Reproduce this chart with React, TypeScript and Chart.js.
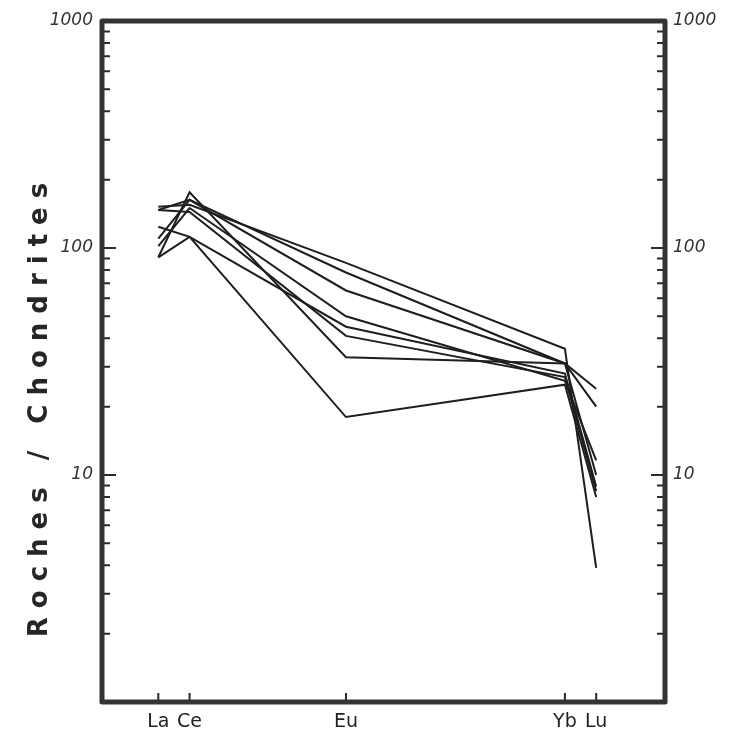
import React, { useEffect, useRef } from "react";
import { Chart, registerables } from "chart.js";

Chart.register(...registerables);

// Rare earth elements (x = atomic number)
const elements = ["La", "Ce", "Eu", "Yb", "Lu"];
const atomicNumbers = [57, 58, 63, 70, 71];

// Rock / chondrite normalised values (La, Ce, Eu, Yb, Lu)
const sample1 = [152, 155, 86, 36, 3.9];
const sample2 = [147, 163, 78, 31, 24];
const sample3 = [110, 163, 65, 31, 20];
const sample4 = [102, 150, 50, 26, 11.6];
const sample5 = [91, 176, 33, 31, 10];
const sample6 = [124, 112, 18, 25, 8.0];
const sample7 = [91, 112, 45, 28, 8.9];
const sample8 = [147, 144, 41, 27, 8.5];
const samples = [sample1, sample2, sample3, sample4, sample5, sample6, sample7, sample8];

const yTickValues = [10, 100, 1000];
const yMin = 1;
const yMax = 1000;
const xMin = 55.2;
const xMax = 73.2;
const yTitle = "Roches / Chondrites";

const framePlugin = {
  id: "frame",
  afterDatasetsDraw(chart: any) {
    const { ctx, chartArea: a, scales } = chart;
    const ys = scales.y;
    const xs = scales.x;
    ctx.save();
    ctx.strokeStyle = "#2b2b2b";
    ctx.lineWidth = 2;
    ctx.beginPath();
    for (let e = 0; e < 3; e++) {
      for (let m = 1; m <= 9; m++) {
        const v = m * Math.pow(10, e);
        if (v <= yMin || v >= yMax) continue;
        const py = ys.getPixelForValue(v);
        const len = m === 1 ? 14 : 8;
        ctx.moveTo(a.left, py);
        ctx.lineTo(a.left + len, py);
        ctx.moveTo(a.right, py);
        ctx.lineTo(a.right - len, py);
      }
    }
    atomicNumbers.forEach((z) => {
      const px = xs.getPixelForValue(z);
      ctx.moveTo(px, a.bottom);
      ctx.lineTo(px, a.bottom - 9);
    });
    ctx.stroke();

    ctx.lineWidth = 5;
    ctx.lineJoin = "round";
    ctx.strokeStyle = "#333";
    ctx.strokeRect(a.left, a.top, a.right - a.left, a.bottom - a.top);

    ctx.translate(40, (a.top + a.bottom) / 2 + 44);
    ctx.rotate(-Math.PI / 2);
    ctx.font = "bold 26px 'DejaVu Sans'";
    (ctx as any).letterSpacing = "9px";
    ctx.fillStyle = "#262626";
    ctx.textAlign = "center";
    ctx.textBaseline = "middle";
    ctx.fillText(yTitle, 0, 0);
    ctx.restore();
  },
};

export default function App() {
  const ref = useRef<HTMLCanvasElement>(null);

  useEffect(() => {
    if (!ref.current) return;
    const yAxisCommon = (width: number, padding: number) => ({
      type: "logarithmic" as const,
      min: yMin,
      max: yMax,
      afterBuildTicks: (s: any) => {
        s.ticks = yTickValues.map((v) => ({ value: v }));
      },
      ticks: {
        callback: (v: any) => String(v),
        font: { family: "DejaVu Sans", size: 17, style: "italic" as const },
        color: "#333",
        padding,
        autoSkip: false,
      },
      grid: { display: false, drawTicks: false },
      border: { display: false },
      afterFit: (s: any) => {
        s.width = width;
      },
    });

    const chart = new Chart(ref.current, {
      type: "line",
      data: {
        datasets: samples.map((s, i) => ({
          label: "Échantillon " + (i + 1),
          data: s.map((v, j) => ({ x: atomicNumbers[j], y: v })),
          borderColor: "#1e1e1e",
          borderWidth: 2,
          pointRadius: 0,
          tension: 0,
          fill: false,
        })),
      },
      options: {
        responsive: false,
        animation: false,
        parsing: false as any,
        layout: { padding: { top: 21, left: 0, right: 0, bottom: 0 } },
        plugins: {
          legend: { display: false },
          tooltip: { enabled: false },
          title: { display: false },
        },
        scales: {
          x: {
            type: "linear",
            min: xMin,
            max: xMax,
            afterBuildTicks: (s: any) => {
              s.ticks = atomicNumbers.map((v) => ({ value: v }));
            },
            ticks: {
              callback: (v: any) => {
                const i = atomicNumbers.indexOf(Number(v));
                return i >= 0 ? elements[i] : "";
              },
              font: { family: "DejaVu Sans", size: 19 },
              color: "#222",
              padding: 9,
              maxRotation: 0,
              autoSkip: false,
            },
            grid: { display: false, drawTicks: false },
            border: { display: false },
            afterFit: (s: any) => {
              s.height = 37;
            },
          },
          y: { ...yAxisCommon(102, 9), position: "left" },
          y2: { ...yAxisCommon(68, 8), position: "right" },
        },
      },
      plugins: [framePlugin],
    });
    return () => chart.destroy();
  }, []);

  return (
    <div style={{ position: "fixed", left: 0, top: 0, width: 733, height: 739, background: "#fff" }}>
      <canvas ref={ref} width={733} height={739} />
    </div>
  );
}
